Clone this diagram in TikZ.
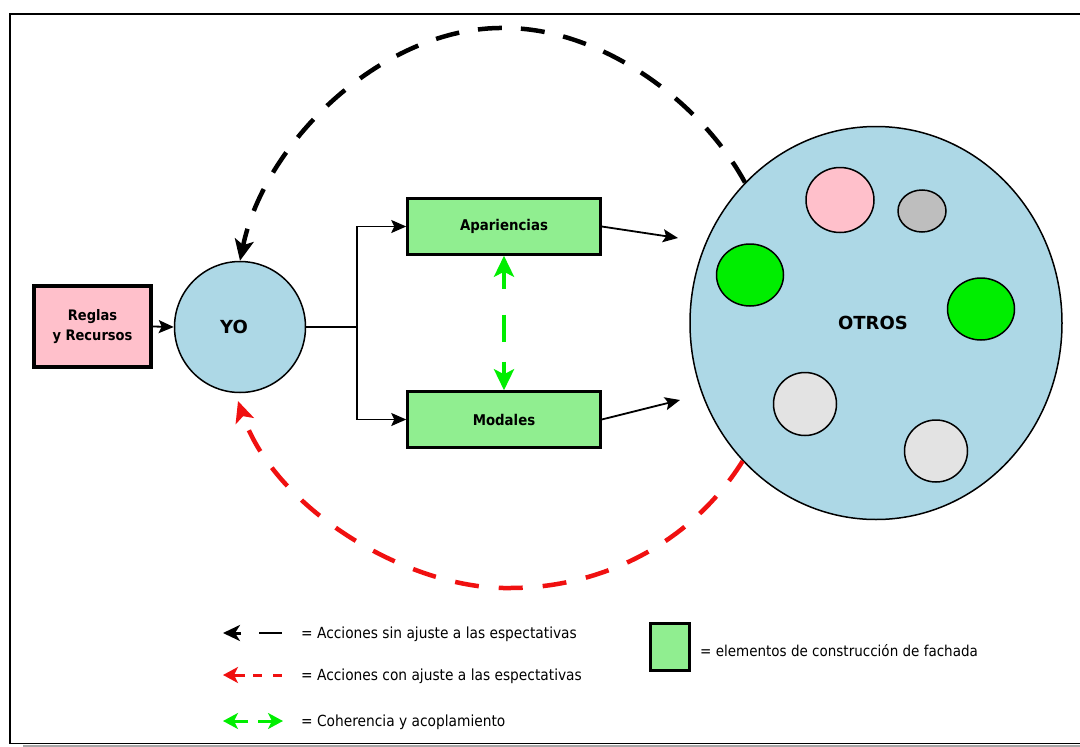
\documentclass[tikz,border=0pt]{standalone}
\usepackage{fontspec}
\setmainfont{DejaVu Sans}
\newfontfamily\labfont[FakeStretch=0.9]{DejaVu Sans}
\usetikzlibrary{shapes.geometric,arrows.meta}
\definecolor{lblue}{HTML}{ADD8E6}
\definecolor{lgreen}{HTML}{90EE90}
\definecolor{lpink}{HTML}{FFC0CB}
\definecolor{bgreen}{HTML}{00EE00}
\definecolor{mgray}{HTML}{BEBEBE}
\definecolor{pgray}{HTML}{E3E3E3}
\definecolor{dred}{HTML}{F01010}
\begin{document}
\begin{tikzpicture}[x=1pt,y=-1pt,
  facade/.style={draw, fill=lgreen, line width=2.5pt, minimum width=193pt, minimum height=56pt, inner sep=0pt, font=\labfont\bfseries\fontsize{14.8}{17}\selectfont},
  ball/.style={ellipse, draw, line width=1.5pt, inner sep=0pt},
  flow/.style={line width=1.8pt, -{Stealth[length=15pt,width=13pt,inset=3pt]}},
  blackarc/.style={line width=4.5pt, dash pattern=on 24pt off 19pt, -{Stealth[length=21pt,width=19pt,inset=5pt]}},
  redarc/.style={dred, line width=4.5pt, dash pattern=on 24pt off 20pt, -{Stealth[length=21pt,width=19pt,inset=5pt]}},
  coher/.style={bgreen, line width=4pt, {Stealth[length=21pt,width=20pt,inset=5pt]}-{Stealth[length=21pt,width=20pt,inset=5pt]}},
  legtext/.style={anchor=west, inner sep=0pt, font=\labfont\fontsize{15.3}{18}\selectfont}
]
\useasboundingbox (0,0) rectangle (1080,747);
\fill[white] (0,0) rectangle (1080,747);
% frame
\draw[gray!70, line width=3pt] (23,746.5) -- (1085,746.5);
\draw[line width=1.5pt] (1085,14) -- (10,14) -- (10,743.5) -- (1085,743.5);

% main nodes
\node[draw, fill=lpink, line width=4pt, minimum width=117pt, minimum height=81pt, align=center, inner sep=0pt, font=\labfont\bfseries\fontsize{14.5}{19.5}\selectfont] (rr) at (92.5,326.5) {Reglas\\y Recursos};
\node[circle, draw, fill=lblue, line width=1.5pt, minimum size=131pt, inner sep=0pt,
  label={[font=\bfseries\fontsize{18}{20}\selectfont, xshift=-6pt]center:YO}] (yo) at (240,327) {};
\node[facade] (app) at (504,226.5) {Apariencias};
\node[facade] (mod) at (504,419.5) {Modales};
\node[ellipse, draw, fill=lblue, line width=1.5pt, minimum width=372pt, minimum height=393pt, inner sep=0pt,
  label={[font=\bfseries\fontsize{18}{20}\selectfont, xshift=-3pt]center:OTROS}] (otros) at (876,323) {};

% inner circles
\node[ball, fill=lpink, minimum width=68pt, minimum height=65pt] (c1) at (840,200) {};
\node[ball, fill=mgray, minimum width=48pt, minimum height=42pt] (c2) at (922,211) {};
\node[ball, fill=bgreen, minimum width=67pt, minimum height=62pt] (c3) at (750,275) {};
\node[ball, fill=bgreen, minimum width=67pt, minimum height=62pt] (c4) at (981,309) {};
\node[ball, fill=pgray, minimum width=63pt, minimum height=63pt] (c5) at (805,404) {};
\node[ball, fill=pgray, minimum width=63pt, minimum height=62pt] (c6) at (936,451) {};

% connectors
\draw[flow] (rr.east) -- (yo.west);
\coordinate (split) at (357,327);
\draw[line width=1.8pt] (yo.east) -- (split);
\draw[flow] (split) |- (app.west);
\draw[flow] (split) |- (mod.west);
\coordinate (append) at (678,238);
\coordinate (modend) at (680,400);
\draw[flow] (app.east) -- (append);
\draw[flow] (mod.east) -- (modend);
\draw[coher, dash pattern=on 18pt off 26pt on 27pt off 20pt] (app.south) -- (mod.north);

\coordinate (redtip) at (238,401);
\draw[blackarc] (otros.133.5) .. controls (700,100) and (600,28) .. (505,28) .. controls (385,26) and (265,140) .. (yo.north);
\draw[redarc] (otros.226.6) .. controls (690,545) and (600,588) .. (510,588) .. controls (410,590) and (275,510) .. (redtip);

% legend
\coordinate (l1a) at (241,633); \coordinate (l1b) at (223,633);
\coordinate (l1c) at (259,633); \coordinate (l1d) at (282,633);
\draw[line width=3pt, -{Stealth[length=17pt,width=16pt,inset=5pt]}] (l1a) -- (l1b);
\draw[line width=2.5pt] (l1c) -- (l1d);
\node[legtext] (t1) at (301,634) {= Acciones sin ajuste a las espectativas};

\coordinate (l2a) at (245,675); \coordinate (l2b) at (223,675);
\coordinate (l2c) at (253,675); \coordinate (l2d) at (262,675);
\coordinate (l2e) at (273,675); \coordinate (l2f) at (282,675);
\draw[dred, line width=3pt, -{Stealth[length=15pt,width=16pt,inset=4pt]}] (l2a) -- (l2b);
\draw[dred, line width=3pt] (l2c) -- (l2d) (l2e) -- (l2f);
\node[legtext] (t2) at (301,676) {= Acciones con ajuste a las espectativas};

\coordinate (l3a) at (248,721); \coordinate (l3b) at (223,721);
\coordinate (l3c) at (258,721); \coordinate (l3d) at (283,721);
\draw[bgreen, line width=3pt, -{Stealth[length=15pt,width=16pt,inset=4pt]}] (l3a) -- (l3b);
\draw[bgreen, line width=3pt, -{Stealth[length=15pt,width=16pt,inset=4pt]}] (l3c) -- (l3d);
\node[legtext] (t3) at (301,722) {= Coherencia y acoplamiento};

\node[draw, fill=lgreen, line width=3pt, minimum width=39pt, minimum height=47pt, inner sep=0pt] (lbox) at (670,647) {};
\node[legtext, font=\labfont\fontsize{15}{18}\selectfont] (t4) at (700,651) {= elementos de construcción de fachada};
\end{tikzpicture}
\end{document}
